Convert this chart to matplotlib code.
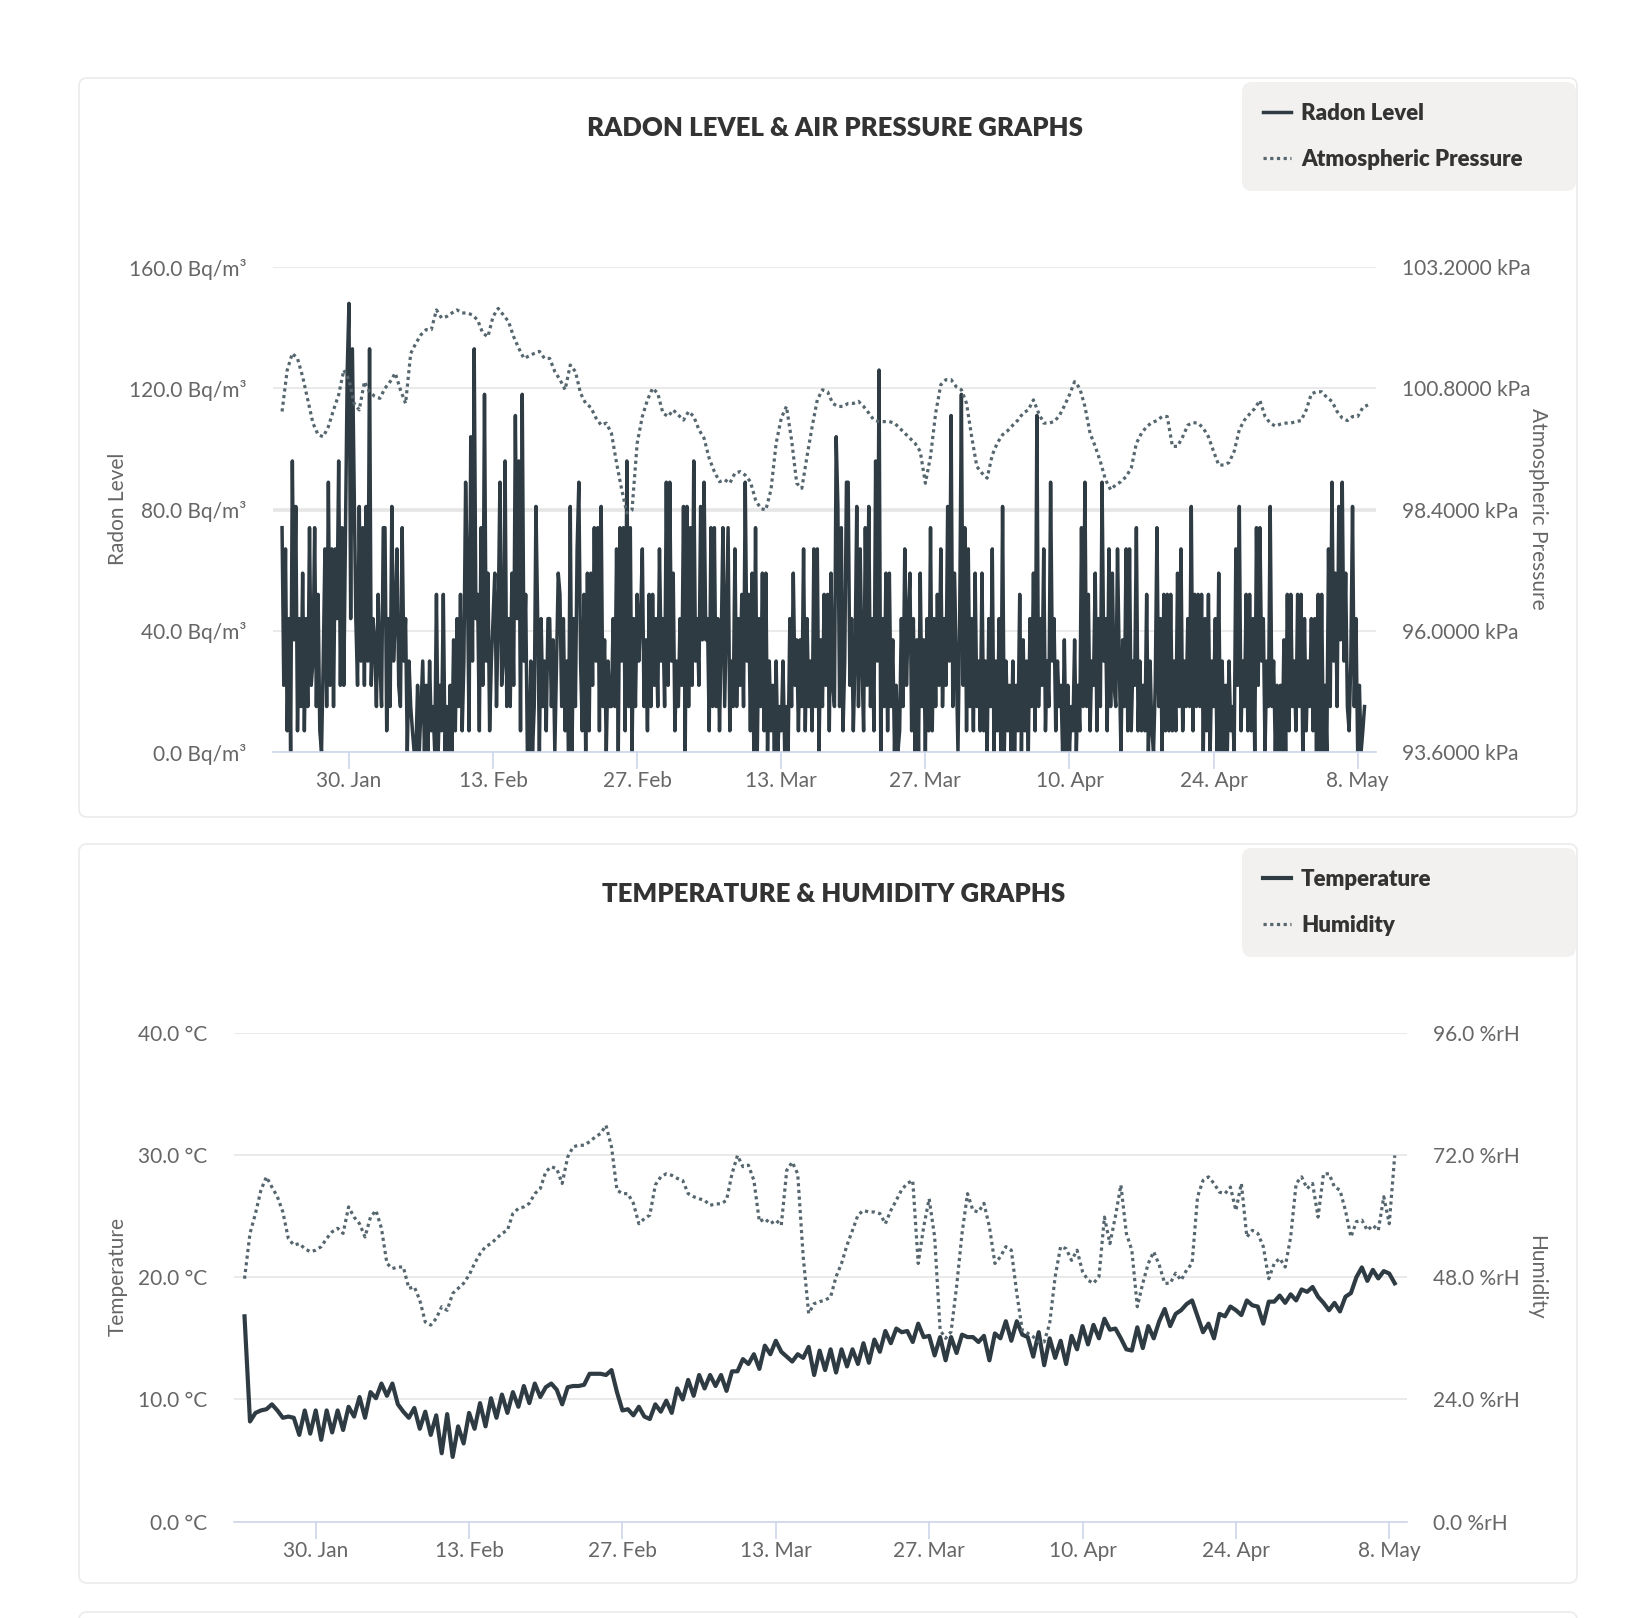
import numpy as np
import matplotlib
matplotlib.use("Agg")
import matplotlib.pyplot as plt
import matplotlib.dates as mdates
from matplotlib.patches import FancyBboxPatch
from matplotlib.ticker import FuncFormatter

plt.rcParams['font.family'] = ['Lato', 'DejaVu Sans']

W, H = 1650, 1618

# readings start 23 Jan 2023 midday
start = np.datetime64('2023-01-23T12:00')
radon_step = np.timedelta64(4, 'h')
slow_step = np.timedelta64(12, 'h')

# radon level, Bq/m3, every 4 hours
radon = [
    74, 22, 67, 7, 44, 0,   96, 37, 81, 7, 44, 15,   59, 7, 44, 15, 74, 22,
    30, 74, 15, 52, 7, 0,   30, 67, 15, 89, 22, 67,  15, 67, 44, 96, 22, 74,
    22, 74, 126, 148, 44, 133,  89, 44, 22, 81, 30, 74,  22, 81, 30, 133, 22, 44,
    37, 15, 52, 30, 15, 74,  74, 7, 44, 15, 81, 30,  44, 67, 22, 15, 74, 30,
    44, 0, 30, 15, 7, 0,    0, 22, 0, 15, 30, 0,     22, 0, 30, 7, 15, 0,
    52, 0, 22, 7, 52, 0,    15, 0, 22, 0, 37, 7,     44, 15, 52, 7, 30, 89,
    59, 7, 104, 30, 133, 44,  52, 7, 74, 22, 118, 30,  59, 7, 30, 44, 59, 15,
    44, 89, 22, 30, 96, 15,  44, 15, 59, 22, 111, 44,  96, 7, 118, 30, 52, 0,
    0, 30, 0, 15, 81, 44,   0, 44, 15, 30, 7, 44,    44, 15, 37, 0, 30, 59,
    52, 15, 44, 7, 30, 0,   81, 0, 44, 15, 67, 89,   30, 7, 52, 0, 59, 7,
    59, 22, 74, 30, 74, 7,  81, 15, 37, 0, 30, 15,   15, 44, 15, 67, 0, 74,
    30, 74, 7, 96, 15, 74,  0, 44, 15, 52, 30, 44,   67, 15, 37, 7, 52, 15,
    52, 22, 44, 15, 67, 30,  44, 15, 89, 22, 89, 30,  59, 7, 30, 15, 44, 22,
    81, 0, 81, 15, 74, 22,  96, 30, 44, 22, 81, 37,  89, 37, 44, 7, 74, 15,
    74, 15, 44, 7, 37, 74,  15, 44, 74, 7, 30, 15,   67, 15, 44, 22, 52, 15,
    89, 30, 52, 7, 59, 0,   74, 0, 44, 15, 59, 7,    59, 0, 30, 7, 22, 0,
    30, 0, 15, 7, 30, 0,    15, 0, 44, 15, 59, 22,   37, 7, 37, 15, 67, 7,
    44, 15, 30, 7, 67, 15,  67, 0, 37, 15, 52, 22,   52, 7, 59, 22, 15, 104,
    81, 15, 74, 7, 30, 89,  89, 22, 44, 7, 30, 81,   15, 67, 30, 7, 74, 22,
    81, 15, 44, 7, 96, 30,  126, 0, 44, 15, 59, 7,   59, 15, 37, 0, 22, 0,
    7, 44, 15, 67, 22, 44,  59, 7, 44, 0, 37, 0,     59, 15, 37, 0, 44, 7,
    74, 7, 44, 15, 52, 22,  67, 15, 44, 22, 81, 30,  111, 15, 59, 30, 0, 44,
    118, 22, 74, 7, 67, 15,  44, 7, 59, 15, 30, 7,   59, 7, 30, 0, 44, 15,
    67, 0, 30, 7, 44, 0,    81, 0, 30, 7, 22, 0,     30, 0, 22, 7, 52, 0,
    37, 7, 30, 0, 44, 15,   59, 7, 111, 15, 44, 22,  67, 7, 30, 15, 89, 30,
    44, 7, 30, 15, 22, 0,   37, 0, 22, 0, 15, 7,     37, 0, 22, 7, 74, 15,
    89, 15, 52, 7, 30, 22,  59, 7, 44, 15, 89, 30,   44, 7, 67, 15, 59, 22,
    15, 67, 30, 0, 37, 15,  67, 7, 67, 7, 30, 22,    74, 7, 30, 7, 22, 7,
    52, 0, 30, 7, 0, 22,    74, 15, 44, 0, 52, 7,    52, 7, 52, 7, 30, 7,
    59, 15, 67, 7, 30, 15,  44, 15, 81, 7, 52, 15,   52, 15, 52, 0, 44, 7,
    52, 0, 30, 15, 44, 0,   59, 0, 30, 0, 22, 0,     30, 7, 15, 0, 67, 22,
    81, 7, 30, 15, 52, 7,   52, 7, 44, 0, 74, 22,    74, 30, 44, 0, 30, 15,
    81, 15, 30, 0, 22, 0,   22, 0, 37, 0, 52, 7,     52, 15, 30, 7, 52, 15,
    52, 0, 44, 7, 30, 15,   44, 7, 44, 0, 52, 0,     52, 0, 22, 0, 67, 15,
    89, 30, 59, 15, 81, 37,  89, 30, 59, 15, 7, 30,  81, 15, 44, 0, 22, 0,
    7, 15,
]

# atmospheric pressure, kPa, every 12 hours
pressure = [
    100.34, 101.16, 101.49, 101.39, 101.03, 100.57, 100.11, 99.88, 99.84, 100.04,
    100.37, 100.67, 101.16, 100.97, 100.50, 100.37, 100.93, 100.73, 100.64, 100.60,
    100.80, 100.93, 101.10, 100.77, 100.50, 101.49, 101.69, 101.86, 101.96, 101.96,
    102.35, 102.19, 102.22, 102.29, 102.35, 102.29, 102.29, 102.25, 102.15, 101.89,
    101.82, 102.22, 102.38, 102.25, 102.12, 101.82, 101.59, 101.39, 101.44, 101.49,
    101.53, 101.39, 101.39, 101.13, 100.97, 100.77, 101.26, 101.13, 100.70, 100.50,
    100.42, 100.21, 100.07, 100.11, 99.91, 99.32, 98.79, 98.33, 98.39, 99.71,
    100.24, 100.57, 100.80, 100.70, 100.31, 100.24, 100.37, 100.27, 100.17, 100.34,
    100.24, 99.98, 99.81, 99.41, 99.15, 98.95, 98.99, 98.92, 99.12, 99.15,
    99.08, 98.95, 98.59, 98.42, 98.39, 98.79, 99.71, 100.21, 100.44, 99.78,
    98.92, 98.82, 99.45, 100.04, 100.57, 100.77, 100.73, 100.50, 100.44, 100.44,
    100.50, 100.50, 100.54, 100.44, 100.31, 100.17, 100.14, 100.14, 100.14, 100.11,
    100.01, 99.91, 99.81, 99.71, 99.55, 98.92, 99.45, 100.31, 100.87, 100.97,
    100.97, 100.83, 100.77, 100.50, 99.84, 99.25, 99.12, 99.02, 99.48, 99.72,
    99.88, 99.96, 100.07, 100.17, 100.31, 100.37, 100.57, 100.31, 100.11, 100.11,
    100.14, 100.25, 100.45, 100.67, 100.93, 100.80, 100.44, 99.91, 99.65, 99.35,
    98.99, 98.79, 98.89, 98.95, 99.05, 99.22, 99.71, 99.91, 100.04, 100.12,
    100.16, 100.24, 100.24, 99.65, 99.65, 99.84, 100.07, 100.12, 100.11, 100.01,
    99.84, 99.55, 99.28, 99.28, 99.33, 99.55, 99.98, 100.17, 100.29, 100.40,
    100.56, 100.24, 100.11, 100.05, 100.09, 100.11, 100.11, 100.14, 100.16, 100.37,
    100.69, 100.73, 100.73, 100.62, 100.54, 100.34, 100.21, 100.16, 100.24, 100.24,
    100.42, 100.47,
]

# temperature, deg C, every 12 hours
temperature = [
    16.8, 8.2, 8.9, 9.1, 9.2, 9.6, 9.1, 8.5, 8.6, 8.5,
    7.1, 9.1, 7.2, 9.1, 6.7, 9.1, 7.3, 9.1, 7.5, 9.4,
    8.6, 10.2, 8.5, 10.6, 10.1, 11.3, 10.3, 11.3, 9.6, 9.0,
    8.5, 9.3, 7.6, 9.0, 7.1, 8.7, 5.6, 8.8, 5.3, 7.8,
    6.4, 8.9, 7.6, 9.7, 7.8, 10.1, 8.5, 10.4, 8.9, 10.6,
    9.4, 11.1, 9.7, 11.3, 10.2, 11.0, 11.3, 10.8, 9.6, 11.0,
    11.1, 11.1, 11.2, 12.1, 12.1, 12.1, 12.0, 12.4, 10.6, 9.1,
    9.2, 8.7, 9.4, 8.6, 8.4, 9.6, 9.0, 9.9, 8.9, 10.9,
    10.0, 11.6, 10.3, 12.0, 10.9, 12.0, 11.1, 12.0, 10.7, 12.3,
    12.3, 13.3, 12.9, 13.7, 12.5, 14.4, 13.7, 14.8, 13.9, 13.5,
    13.1, 13.7, 13.4, 14.3, 12.0, 14.0, 12.4, 14.1, 12.2, 14.1,
    12.7, 14.1, 12.9, 14.6, 13.0, 14.9, 13.9, 15.6, 14.6, 15.8,
    15.5, 15.6, 14.7, 16.2, 15.1, 15.2, 13.6, 15.1, 13.2, 15.1,
    13.8, 15.3, 15.1, 15.1, 14.7, 15.2, 13.2, 15.4, 15.0, 16.4,
    14.8, 16.4, 15.3, 15.1, 13.5, 15.5, 12.8, 15.0, 13.4, 14.8,
    12.9, 15.2, 14.1, 16.0, 14.5, 16.1, 15.0, 16.6, 15.7, 15.8,
    15.0, 14.1, 14.0, 15.9, 14.2, 16.0, 15.0, 16.4, 17.4, 16.0,
    17.0, 17.3, 17.8, 18.1, 16.8, 15.5, 16.2, 15.0, 17.0, 16.8,
    17.6, 17.3, 16.9, 18.1, 17.7, 17.6, 16.2, 18.0, 18.0, 18.5,
    17.9, 18.6, 18.1, 19.0, 18.8, 19.2, 18.4, 17.9, 17.3, 17.9,
    17.2, 18.4, 18.7, 20.0, 20.8, 19.7, 20.6, 19.9, 20.5, 20.3,
    19.5,
]

# relative humidity, %rH, every 12 hours
humidity = [
    47.7, 56.6, 60.5, 65.1, 67.7, 65.7, 63.8, 60.8, 55.6, 54.3,
    54.6, 53.6, 53.0, 53.3, 54.0, 55.6, 56.9, 57.6, 56.6, 61.8,
    59.8, 58.5, 55.9, 59.8, 61.1, 57.6, 50.7, 49.7, 50.0, 50.0,
    45.8, 46.1, 43.5, 39.2, 38.6, 39.9, 42.2, 41.5, 44.8, 45.8,
    46.8, 48.4, 50.7, 52.6, 54.0, 54.6, 55.6, 56.6, 57.2, 60.5,
    61.5, 61.8, 62.5, 64.4, 65.4, 68.7, 69.7, 69.3, 66.4, 71.6,
    73.6, 73.9, 73.9, 74.6, 75.5, 76.2, 77.8, 73.6, 65.1, 64.4,
    64.4, 62.5, 58.5, 59.5, 60.2, 66.1, 67.7, 68.3, 68.0, 67.4,
    67.0, 64.4, 63.8, 63.4, 63.1, 62.1, 62.4, 62.4, 63.1, 68.3,
    71.9, 69.7, 70.0, 67.0, 58.9, 59.5, 58.5, 59.2, 58.2, 69.0,
    70.6, 68.3, 52.0, 40.9, 42.8, 43.2, 43.5, 44.1, 48.1, 50.7,
    54.3, 57.2, 60.2, 61.1, 60.8, 60.8, 60.5, 58.5, 61.1, 63.1,
    65.2, 66.4, 67.0, 50.7, 57.9, 63.4, 55.9, 37.6, 36.0, 37.3,
    46.1, 56.6, 64.4, 61.1, 60.8, 62.5, 57.9, 50.7, 52.0, 54.0,
    53.3, 44.8, 37.6, 37.0, 36.3, 35.3, 35.3, 38.9, 48.1, 54.0,
    53.6, 51.3, 53.3, 49.1, 47.4, 46.8, 48.1, 59.8, 54.6, 59.9,
    66.1, 56.6, 53.3, 42.2, 46.8, 50.7, 53.0, 50.4, 46.8, 46.8,
    48.8, 47.4, 49.4, 50.7, 63.8, 67.0, 67.7, 66.4, 64.7, 64.4,
    65.7, 61.1, 66.4, 55.9, 57.2, 56.6, 54.0, 47.7, 50.7, 51.7,
    50.0, 55.9, 66.4, 67.7, 65.4, 66.4, 59.8, 68.3, 68.3, 65.7,
    65.1, 61.1, 55.9, 58.9, 59.2, 57.2, 58.2, 57.2, 63.8, 58.5,
    71.9,
]

tick_dates = ['2023-01-30', '2023-02-13', '2023-02-27', '2023-03-13',
              '2023-03-27', '2023-04-10', '2023-04-24', '2023-05-08']
radon_ticks = [0, 40, 80, 120, 160]
pressure_ticks = [93.6, 96.0, 98.4, 100.8, 103.2]
temp_ticks = [0, 10, 20, 30, 40]
hum_ticks = [0, 24, 48, 72, 96]
radon_guide = 80

radon_t = start + radon_step * np.arange(len(radon))
pressure_t = start + slow_step * np.arange(len(pressure))
temp_t = start + slow_step * np.arange(len(temperature))
hum_t = start + slow_step * np.arange(len(humidity))
ticks = [np.datetime64(d) for d in tick_dates]

DARK = '#2f3b43'
DOT = '#56666f'
GRID = '#e6e6e6'
AXIS = '#ccd6eb'
LABEL = '#666666'
TSIZE = 15

fig = plt.figure(figsize=(W / 100, H / 100), dpi=100)
fig.patch.set_facecolor('white')

bg = fig.add_axes([0, 0, 1, 1], zorder=0)
bg.set_xlim(0, W)
bg.set_ylim(H, 0)
bg.axis('off')

for top in (78, 844, 1612):
    bg.add_patch(FancyBboxPatch((79, top), 1498, 739,
                                boxstyle='round,pad=0,rounding_size=8',
                                fc='white', ec='#ebebeb', lw=1.2))


def style_axes(ax, axr, x_left, x_right):
    ax.set_facecolor('none')
    for s in ('top', 'left', 'right'):
        ax.spines[s].set_visible(False)
        axr.spines[s].set_visible(False)
    axr.spines['bottom'].set_visible(False)
    ax.spines['bottom'].set_color(AXIS)
    ax.spines['bottom'].set_linewidth(1.2)
    ax.set_xticks(ticks)
    ax.xaxis.set_major_formatter(mdates.DateFormatter('%-d. %b'))
    ax.tick_params(axis='x', direction='out', length=12, width=1.2,
                   color=AXIS, labelsize=TSIZE, labelcolor=LABEL, pad=2)
    ax.tick_params(axis='y', length=0, labelsize=TSIZE, labelcolor=LABEL, pad=19)
    axr.tick_params(axis='y', length=0, labelsize=TSIZE, labelcolor=LABEL, pad=19)
    ax.yaxis.grid(True, color=GRID, lw=1.2)
    ax.set_axisbelow(True)
    t0 = mdates.date2num(ticks[0])
    t1 = mdates.date2num(ticks[-1])
    ax.set_xlim(t0 - x_left, t1 + x_right)


def add_legend(axr, handles, labels, left, top):
    leg = axr.legend(handles, labels, loc='upper left',
                     bbox_to_anchor=(left / W, 1 - (top + 107) / H, 334 / W, 107 / H),
                     bbox_transform=fig.transFigure, mode='expand',
                     prop={'weight': 'heavy', 'size': 16}, labelcolor='#333333',
                     handlelength=1.25, handletextpad=0.45, labelspacing=1.1,
                     borderpad=0.95, borderaxespad=0, framealpha=1, fancybox=True)
    fr = leg.get_frame()
    fr.set_facecolor('#f2f1ef')
    fr.set_edgecolor('none')
    fr.set_boxstyle('round,pad=0,rounding_size=0.45')
    return leg


# ---- radon and pressure ----
ax1 = fig.add_axes([273 / W, 1 - 752 / H, 1103 / W, 485 / H], zorder=1)
ax1r = ax1.twinx()
style_axes(ax1, ax1r, 7.38, 1.78)

ax1.axhline(radon_guide, color=GRID, lw=2.6, zorder=0.8)
l1, = ax1.plot(radon_t, radon, color=DARK, lw=2.5, solid_joinstyle='round',
               label='Radon Level')
l2, = ax1r.plot(pressure_t, pressure, color=DOT, lw=2.3, dashes=(1.0, 1.1),
                dash_capstyle='butt', label='Atmospheric Pressure')
ax1.set_ylim(0, 160)
ax1r.set_ylim(93.6, 103.2)
ax1.set_yticks(radon_ticks)
ax1r.set_yticks(pressure_ticks)
ax1.yaxis.set_major_formatter(FuncFormatter(lambda v, p: f'{v:.1f} Bq/m³'))
ax1r.yaxis.set_major_formatter(FuncFormatter(lambda v, p: f'{v:.4f} kPa'))
add_legend(ax1r, [l1, l2], ['Radon Level', 'Atmospheric Pressure'], 1242, 82)

bg.text(835, 128, 'RADON LEVEL & AIR PRESSURE GRAPHS', ha='center', va='center',
        fontsize=18.5, fontweight='heavy', color='#333333')
bg.text(118, 509, 'Radon Level', rotation=90, ha='center', va='center',
        fontsize=15, color=LABEL)
bg.text(1538, 509, 'Atmospheric Pressure', rotation=270, ha='center', va='center',
        fontsize=15, color=LABEL)

# ---- temperature and humidity ----
ax2 = fig.add_axes([234 / W, 1 - 1521.7 / H, 1173 / W, 489 / H], zorder=1)
ax2r = ax2.twinx()
style_axes(ax2, ax2r, 7.46, 1.62)

t1_, = ax2.plot(temp_t, temperature, color=DARK, lw=3.0, solid_joinstyle='round',
                label='Temperature')
t2_, = ax2r.plot(hum_t, humidity, color=DOT, lw=2.3, dashes=(1.0, 1.1),
                 dash_capstyle='butt', label='Humidity')
ax2.set_ylim(0, 40)
ax2r.set_ylim(0, 96)
ax2.set_yticks(temp_ticks)
ax2r.set_yticks(hum_ticks)
ax2.yaxis.set_major_formatter(FuncFormatter(lambda v, p: f'{v:.1f} °C'))
ax2r.yaxis.set_major_formatter(FuncFormatter(lambda v, p: f'{v:.1f} %rH'))
add_legend(ax2r, [t1_, t2_], ['Temperature', 'Humidity'], 1242, 848)

bg.text(834, 894, 'TEMPERATURE & HUMIDITY GRAPHS', ha='center', va='center',
        fontsize=18.5, fontweight='heavy', color='#333333')
bg.text(118, 1277, 'Temperature', rotation=90, ha='center', va='center',
        fontsize=15, color=LABEL)
bg.text(1536, 1277, 'Humidity', rotation=270, ha='center', va='center',
        fontsize=15, color=LABEL)

fig.savefig('out.png', dpi=100, facecolor='white')
